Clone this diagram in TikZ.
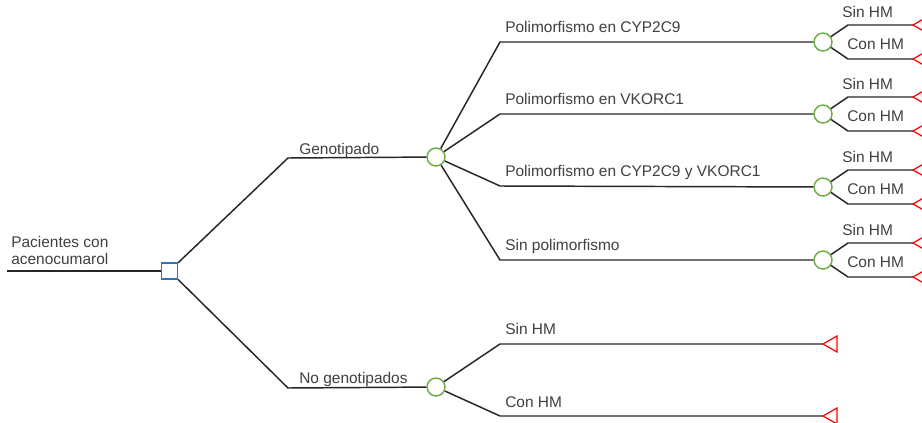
\documentclass[tikz,border=0pt]{standalone}
\usepackage{fontspec}
\setmainfont{Liberation Sans}
\definecolor{linec}{HTML}{262626}
\definecolor{textc}{HTML}{404040}
\definecolor{chancec}{HTML}{70AD47}
\definecolor{decc}{HTML}{2E75B6}
\definecolor{termc}{HTML}{FF0000}
\begin{document}
\begin{tikzpicture}[x=0.75pt,y=-0.75pt,
  conn/.style={draw=linec,line width=1.1pt},
  chance/.style={circle,draw=chancec,line width=1.1pt,fill=white,minimum size=13.5pt,inner sep=0pt},
  decision/.style={rectangle,draw=decc,line width=0.9pt,fill=white,minimum size=12pt,inner sep=0pt},
  term/.style={draw=termc,line width=0.9pt},
  lbl/.style={anchor=base west,inner sep=0pt,text=textc,font=\fontsize{11.6}{14}\selectfont}]
\useasboundingbox (0,0) rectangle (922,422);
\fill[white] (0,0) rectangle (922,422);

% root
\coordinate (r0) at (7,271);
\node[decision] (d) at (169.5,271) {};
\draw[conn] (r0) -- (d);
\node[lbl] (rt1) at (11,247) {Pacientes con};
\node[lbl] (rt2) at (11,264) {acenocumarol};

% first level
\node[chance] (cg) at (436,157) {};
\node[chance] (cn) at (436,387) {};
\coordinate (kg) at (288,158);
\coordinate (kn) at (288,388);
\draw[conn] (d) -- (kg) -- (cg);
\draw[conn] (d) -- (kn) -- (cn);
\node[lbl] (tg) at (299,154) {Genotipado};
\node[lbl] (tn) at (299,383) {No genotipados};

% genotipado branches
\foreach \i/\cy/\ky/\txt in {1/42/42/{Polimorfismo en CYP2C9},2/114/114/{Polimorfismo en VKORC1},3/187/186/{Polimorfismo en CYP2C9 y VKORC1},4/260/260/{Sin polimorfismo}}{
  \node[chance] (c\i) at (823,\cy) {};
  \coordinate (k\i) at (500,\ky);
  \draw[conn] (cg) -- (k\i) -- (c\i);
  \node[lbl] (t\i) at (505,\ky-10) {\txt};
  \coordinate (ks\i) at (848,\cy-17);
  \coordinate (kc\i) at (848,\cy+17);
  \coordinate (ps\i) at (913,\cy-17);
  \coordinate (pc\i) at (913,\cy+17);
  \draw[conn] (c\i) -- (ks\i) -- (ps\i);
  \draw[conn] (c\i) -- (kc\i) -- (pc\i);
  \draw[term] (ps\i) -- ++(14,-8) -- ++(0,16) -- cycle;
  \draw[term] (pc\i) -- ++(14,-8) -- ++(0,16) -- cycle;
  \node[lbl] (ts\i) at (842,\cy-25) {Sin HM};
  \node[lbl] (tc\i) at (847,\cy+7) {Con HM};
}

% no genotipados branches
\coordinate (kns) at (500,344);
\coordinate (knc) at (500,416);
\coordinate (pns) at (823,344);
\coordinate (pnc) at (823,416);
\draw[conn] (cn) -- (kns) -- (pns);
\draw[conn] (cn) -- (knc) -- (pnc);
\draw[term] (pns) -- ++(14,-8) -- ++(0,16) -- cycle;
\draw[term] (pnc) -- ++(14,-8) -- ++(0,16) -- cycle;
\node[lbl] (tns) at (505,334) {Sin HM};
\node[lbl] (tnc) at (505,407) {Con HM};
\end{tikzpicture}
\end{document}
